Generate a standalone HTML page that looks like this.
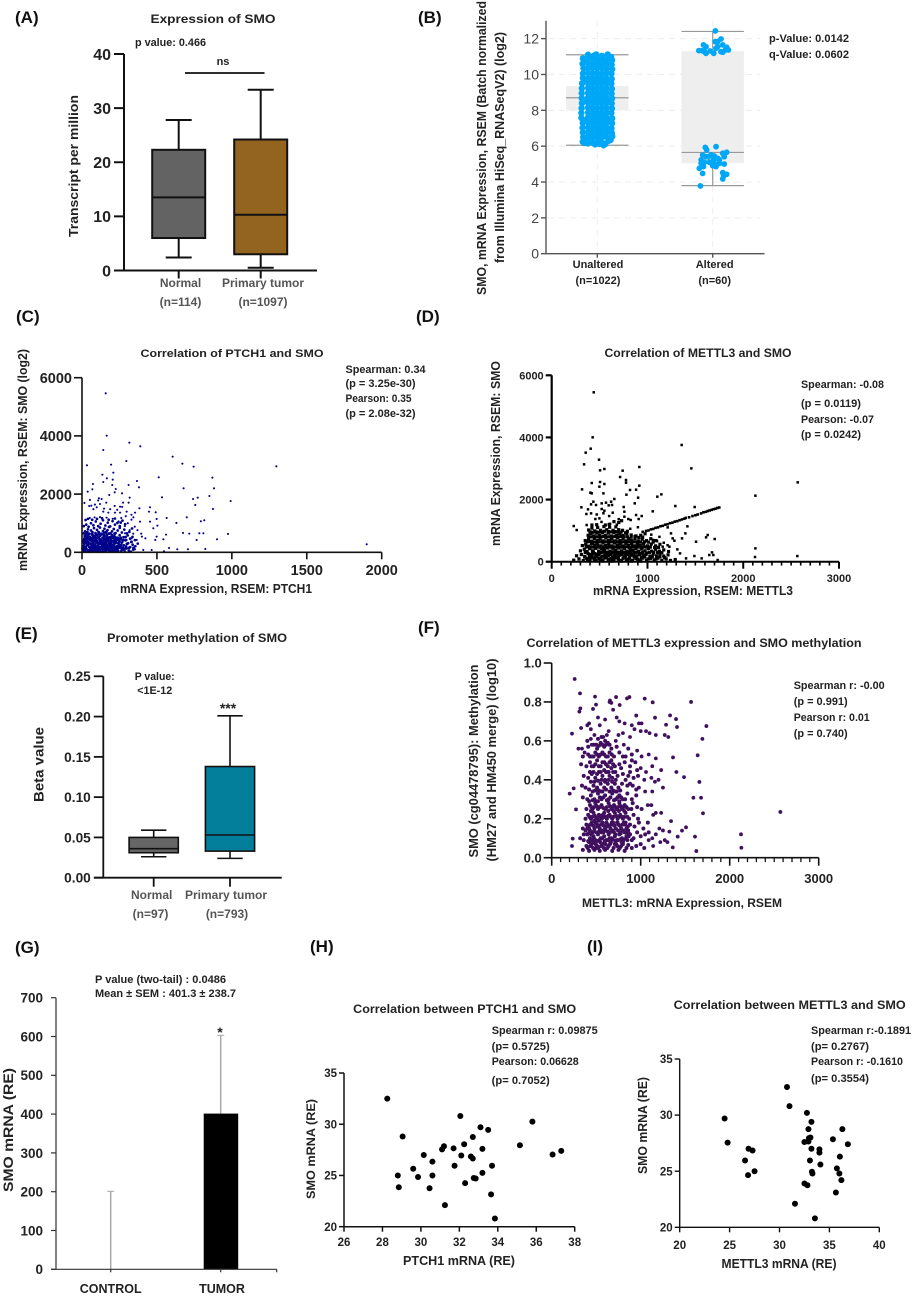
<!DOCTYPE html>
<html lang="en">
<head>
<meta charset="utf-8">
<title>SMO expression figure</title>
<style>
html,body{margin:0;padding:0;background:#fff;}
svg{display:block;}
text{font-family:"Liberation Sans",sans-serif;fill:#1a1a1a;font-weight:bold;}
.panel-tag{font-size:17px;fill:#111;}
.stat{font-size:11px;fill:#222;}
.title{font-size:12px;fill:#222;}
.axis-title{font-size:13px;fill:#222;}
.cat{font-size:12px;fill:#555;}
</style>
</head>
<body>
<svg id="figure" xmlns="http://www.w3.org/2000/svg" width="913" height="1297" viewBox="0 0 913 1297">
<rect x="0" y="0" width="913" height="1297" fill="#ffffff"/>

<g id="panel-a">
<text class="panel-tag" x="15" y="23">(A)</text>
<text class="title" x="213" y="23" text-anchor="middle" textLength="125" lengthAdjust="spacingAndGlyphs">Expression of SMO</text>
<text class="stat" x="135" y="46" textLength="71" lengthAdjust="spacingAndGlyphs">p value: 0.466</text>
<text class="stat" x="223" y="65" text-anchor="middle">ns</text>
<line x1="185" y1="73" x2="264.500" y2="73" stroke="#111" stroke-width="1.800"/>
<text class="axis-title" transform="translate(78,166) rotate(-90)" text-anchor="middle" textLength="142" lengthAdjust="spacingAndGlyphs">Transcript per million</text>
</g>

<g id="panel-b">
<text class="panel-tag" x="418" y="23">(B)</text>
<text class="axis-title" transform="translate(486,148) rotate(-90)" text-anchor="middle" textLength="294" lengthAdjust="spacingAndGlyphs">SMO, mRNA Expression, RSEM (Batch normalized</text>
<text class="axis-title" transform="translate(504,147.500) rotate(-90)" text-anchor="middle" textLength="231" lengthAdjust="spacingAndGlyphs">from Illumina HiSeq_RNASeqV2) (log2)</text>
<text class="stat" x="769" y="42" textLength="80" lengthAdjust="spacingAndGlyphs">p-Value: 0.0142</text>
<text class="stat" x="769" y="58" textLength="80" lengthAdjust="spacingAndGlyphs">q-Value: 0.0602</text>
</g>

<g id="panel-c">
<text class="panel-tag" x="16" y="322">(C)</text>
<text class="title" style="font-size:11px" x="232" y="357" text-anchor="middle" textLength="183" lengthAdjust="spacingAndGlyphs">Correlation of PTCH1 and SMO</text>
<text class="stat" x="345.500" y="373" textLength="80" lengthAdjust="spacingAndGlyphs">Spearman: 0.34</text>
<text class="stat" x="345.500" y="387" textLength="70" lengthAdjust="spacingAndGlyphs">(p = 3.25e-30)</text>
<text class="stat" x="345.500" y="402" textLength="66" lengthAdjust="spacingAndGlyphs">Pearson: 0.35</text>
<text class="stat" x="345.500" y="417" textLength="70" lengthAdjust="spacingAndGlyphs">(p = 2.08e-32)</text>
<text class="axis-title" transform="translate(27,460) rotate(-90)" text-anchor="middle" textLength="222" lengthAdjust="spacingAndGlyphs">mRNA Expression, RSEM: SMO  (log2)</text>
<text class="axis-title" x="216" y="593" text-anchor="middle" textLength="192" lengthAdjust="spacingAndGlyphs">mRNA Expression, RSEM: PTCH1</text>
</g>

<g id="panel-d">
<text class="panel-tag" x="416" y="322">(D)</text>
<text class="title" x="698" y="357" text-anchor="middle" textLength="187" lengthAdjust="spacingAndGlyphs">Correlation of METTL3 and SMO</text>
<text class="stat" x="801" y="388" textLength="83" lengthAdjust="spacingAndGlyphs">Spearman: -0.08</text>
<text class="stat" x="801" y="407" textLength="60" lengthAdjust="spacingAndGlyphs">(p = 0.0119)</text>
<text class="stat" x="801" y="423" textLength="73" lengthAdjust="spacingAndGlyphs">Pearson: -0.07</text>
<text class="stat" x="801" y="438" textLength="60" lengthAdjust="spacingAndGlyphs">(p = 0.0242)</text>
<text class="axis-title" transform="translate(500,453.500) rotate(-90)" text-anchor="middle" textLength="185" lengthAdjust="spacingAndGlyphs">mRNA Expression, RSEM:  SMO</text>
<text class="axis-title" x="693" y="595" text-anchor="middle" textLength="200" lengthAdjust="spacingAndGlyphs">mRNA Expression, RSEM: METTL3</text>
</g>

<g id="panel-e">
<text class="panel-tag" x="15" y="639">(E)</text>
<text class="title" x="197" y="642" text-anchor="middle" textLength="180" lengthAdjust="spacingAndGlyphs">Promoter methylation of SMO</text>
<text class="stat" x="154.700" y="680" text-anchor="middle" textLength="40" lengthAdjust="spacingAndGlyphs">P value:</text>
<text class="stat" x="154.700" y="694" text-anchor="middle" textLength="35" lengthAdjust="spacingAndGlyphs">&lt;1E-12</text>
<text class="stat" style="font-size:14px" x="228" y="713" text-anchor="middle">***</text>
<text class="axis-title" style="font-size:14px" transform="translate(43.500,764.500) rotate(-90)" text-anchor="middle" textLength="75" lengthAdjust="spacingAndGlyphs">Beta value</text>
</g>

<g id="panel-f">
<text class="panel-tag" x="418" y="633">(F)</text>
<text class="title" x="694" y="647" text-anchor="middle" textLength="335" lengthAdjust="spacingAndGlyphs">Correlation of METTL3 expression and SMO methylation</text>
<text class="stat" x="793.700" y="689" textLength="91" lengthAdjust="spacingAndGlyphs">Spearman r: -0.00</text>
<text class="stat" x="793.700" y="705" textLength="54" lengthAdjust="spacingAndGlyphs">(p = 0.991)</text>
<text class="stat" x="793.700" y="721" textLength="76" lengthAdjust="spacingAndGlyphs">Pearson r: 0.01</text>
<text class="stat" x="793.700" y="737" textLength="54" lengthAdjust="spacingAndGlyphs">(p = 0.740)</text>
<text class="axis-title" transform="translate(478,761) rotate(-90)" text-anchor="middle" textLength="193" lengthAdjust="spacingAndGlyphs">SMO (cg04478795): Methylation</text>
<text class="axis-title" transform="translate(496,760) rotate(-90)" text-anchor="middle" textLength="203" lengthAdjust="spacingAndGlyphs">(HM27 and HM450 merge) (log10)</text>
<text class="axis-title" style="font-size:12px" x="682" y="907" text-anchor="middle" textLength="200" lengthAdjust="spacingAndGlyphs">METTL3: mRNA Expression, RSEM</text>
</g>

<g id="panel-g">
<text class="panel-tag" x="15" y="953">(G)</text>
<text class="stat" x="95" y="983" textLength="131" lengthAdjust="spacingAndGlyphs">P value (two-tail) : 0.0486</text>
<text class="stat" x="95" y="997" textLength="141" lengthAdjust="spacingAndGlyphs">Mean ± SEM : 401.3 ± 238.7</text>
<text class="axis-title" style="font-size:14px" transform="translate(13,1130) rotate(-90)" text-anchor="middle" textLength="124" lengthAdjust="spacingAndGlyphs">SMO mRNA (RE)</text>
<text class="stat" style="font-size:14px" x="220" y="1037" text-anchor="middle">*</text>
</g>

<g id="panel-h">
<text class="panel-tag" x="310" y="952">(H)</text>
<text class="title" x="464.700" y="1013" text-anchor="middle" textLength="223" lengthAdjust="spacingAndGlyphs">Correlation between PTCH1 and SMO</text>
<text class="stat" x="491.700" y="1034" textLength="106" lengthAdjust="spacingAndGlyphs">Spearman r: 0.09875</text>
<text class="stat" x="491.700" y="1050" textLength="58" lengthAdjust="spacingAndGlyphs">(p= 0.5725)</text>
<text class="stat" x="491.700" y="1065" textLength="87" lengthAdjust="spacingAndGlyphs">Pearson: 0.06628</text>
<text class="stat" x="491.700" y="1084" textLength="58" lengthAdjust="spacingAndGlyphs">(p= 0.7052)</text>
<text class="axis-title" style="font-size:12px" transform="translate(315,1149) rotate(-90)" text-anchor="middle" textLength="100" lengthAdjust="spacingAndGlyphs">SMO mRNA (RE)</text>
<text class="axis-title" x="459" y="1265" text-anchor="middle" textLength="112" lengthAdjust="spacingAndGlyphs">PTCH1 mRNA (RE)</text>
</g>

<g id="panel-i">
<text class="panel-tag" x="587" y="952">(I)</text>
<text class="title" x="789.700" y="1009" text-anchor="middle" textLength="232" lengthAdjust="spacingAndGlyphs">Correlation between METTL3 and SMO</text>
<text class="stat" x="811" y="1034" textLength="100" lengthAdjust="spacingAndGlyphs">Spearman r:-0.1891</text>
<text class="stat" x="811" y="1050" textLength="58" lengthAdjust="spacingAndGlyphs">(p= 0.2767)</text>
<text class="stat" x="811" y="1065" textLength="92" lengthAdjust="spacingAndGlyphs">Pearson r: -0.1610</text>
<text class="stat" x="811" y="1082" textLength="58" lengthAdjust="spacingAndGlyphs">(p= 0.3554)</text>
<text class="axis-title" transform="translate(647,1125.500) rotate(-90)" text-anchor="middle" textLength="97" lengthAdjust="spacingAndGlyphs">SMO mRNA (RE)</text>
<text class="axis-title" x="779" y="1268" text-anchor="middle" textLength="115" lengthAdjust="spacingAndGlyphs">METTL3 mRNA (RE)</text>
</g>
</svg>

<script>
/* ---------- Panel A data ---------- */
const aTickLabels = ['0','10','20','30','40'];
const aCategories = ['Normal','Primary tumor'];
const aCounts = ['(n=114)','(n=1097)'];
const aLow = [2.4,0.5];
const aQ1 = [6,3];
const aMedian = [13.5,10.3];
const aQ3 = [22.3,24.2];
const aHigh = [27.8,33.4];

/* ---------- Panel B data ---------- */
const bTickLabels = ['0','2','4','6','8','10','12'];
const bCategories = ['Unaltered','Altered'];
const bCounts = ['(n=1022)','(n=60)'];
const bLow = [6.05,3.8];
const bQ1 = [8,5.05];
const bMedian = [8.7,5.65];
const bQ3 = [9.35,11.3];
const bHigh = [11.1,12.4];
/* [horizontal jitter in % of category spacing, log2 expression] */
const bUnaltered = [
[-8,11.1],[-3,11.05],[-1,11.12],[4,11.04],[9,11.12],[12,10.98],[-12.5,10.9],[-9,10.85],[-4,10.88],[0,10.85],[4.5,10.9],[8.5,10.85],[12.8,10.8],
[-12.8,10.6],[-8,10.62],[-4,10.6],[0,10.62],[4,10.6],[8,10.62],[12.4,10.55],[-12,10.35],[-8,10.33],[-4,10.36],[0,10.34],[4,10.35],[8,10.33],[12.9,10.3],
[-12.4,10.05],[-8,10.08],[-4,10.05],[0,10.07],[4,10.04],[8,10.08],[12.2,10.05],[-12.5,9.8],[-8,9.78],[-4,9.8],[0,9.78],[4,9.8],[8,9.78],[12.5,9.75],
[-13.2,9.5],[-8,9.52],[-4,9.5],[0,9.52],[4,9.5],[8,9.52],[12.2,9.5],[-13.4,9.22],[-8,9.25],[-4,9.22],[0,9.24],[4,9.22],[8,9.24],[12.6,9.2],
[-13.5,8.95],[-8,8.97],[-4,8.95],[0,8.96],[4,8.94],[8,8.97],[12.4,8.93],[-13.5,8.68],[-8,8.7],[-4,8.68],[0,8.7],[4,8.68],[8,8.7],[12.8,8.66],
[-13.3,8.4],[-8,8.42],[-4,8.4],[0,8.42],[4,8.4],[8,8.42],[12.5,8.38],[-13.6,8.12],[-8,8.15],[-4,8.12],[0,8.14],[4,8.12],[8,8.14],[12.7,8.1],
[-13.8,7.85],[-8,7.87],[-4,7.85],[0,7.86],[4,7.84],[8,7.87],[12.2,7.85],[-13.8,7.58],[-8,7.6],[-4,7.58],[0,7.6],[4,7.58],[8,7.6],[12.9,7.55],
[-12.6,7.3],[-8,7.32],[-4,7.3],[0,7.32],[4,7.3],[8,7.32],[12.8,7.28],[-12.8,7.03],[-8,7.05],[-4,7.03],[0,7.05],[4,7.03],[8,7.05],[12.3,7],
[-12.5,6.76],[-8,6.78],[-4,6.76],[0,6.78],[4,6.76],[8,6.78],[12.6,6.74],[-12.2,6.5],[-8,6.52],[-4,6.5],[0,6.52],[4,6.5],[8,6.52],[13,6.55],
[-12.6,6.25],[-9.5,6.28],[-5,6.22],[-1,6.2],[3,6.24],[6.5,6.15],[10,6.3],[11.5,6.35],[-11.5,6.18],[-8,6.15],[-2,6.1],[2,6.12],[5.5,6.05],[7,6.12],
[-10,10.73],[-6,10.98],[2,10.74],[6,10.74],[-10,9.65],[-6,9.65],[-2,9.65],[2,9.65],[6,9.65],[10,9.65],[-10,8.55],[-6,8.55],[-2,8.55],[2,8.55],[6,8.55],[10,8.55],[-10,7.45],[-6,7.45],[-2,7.45],[2,7.45],[6,7.45],[10,7.45]
];
const bAltered = [
[2.3,12.43],[7.2,11.98],[4.3,11.83],[2.3,11.83],[-8,11.65],[-5.8,11.55],[8.7,11.65],[12.1,11.52],[-12,11.33],[-9.2,11.33],[-7.2,11.27],[-5.8,11.18],[-2.3,11.31],[0.9,11.18],[2.9,11.46],[7.2,11.27],[8.7,11.24],[13.6,11.37],[11,11.37],[4.3,11.55],
[-6.4,5.93],[2.9,5.97],[-5.2,5.79],[12.1,5.66],[8.7,5.6],[-8.7,5.51],[-1.4,5.51],[1.4,5.45],[-10,5.23],[-5.8,5.41],[5.8,5.23],[10,5.41],[-10,5.04],[-7.2,5.1],[-2.9,5.1],[1.4,5.04],[5.8,5.04],[10,5],[-11.6,4.76],[-8,4.86],[0,4.91],[2.9,4.86],[-8.7,4.48],[8.7,4.52],[12.1,4.43],[9.5,4.35],[8.7,4.17],[-10.7,3.78],[-3.8,5.41],[0.6,5.23],[4.3,5.32]
];

/* ---------- Panel C data: [PTCH1, SMO] ---------- */
const cXTickLabels = ['0','500','1000','1500','2000'];
const cYTickLabels = ['0','2000','4000','6000'];
const cSparse = [
[158,5462],[165,4008],[316,3767],[389,3641],[142,3515],[605,3286],[33,2989],[194,3011],[296,3137],[670,3046],[745,2943],[1297,2954],[136,2668],[209,2737],[166,2542],[512,2576],[870,2565],[367,2450],[142,2416],[205,2496],[73,2347],[202,2313],[311,2313],[380,2233],[678,2198],[881,2198],[38,2084],[69,2164],[225,2175],[218,2061],[267,2027],[182,1970],[534,1889],[318,1878],[772,1878],[850,1935],[741,1832],[992,1763],[16,1695],[53,1798],[113,1855],[131,1832],[162,1706],[274,1706],[311,1706],[756,1626],[874,1489],[454,1546],[383,1512],[218,1592],[254,1569],[62,1603],[120,1660],[98,1546],[142,1397],[176,1363],[220,1363],[254,1363],[298,1397],[354,1363],[447,1397],[492,1374],[565,1180],[630,1008],[699,1202],[793,1065],[816,1100],[498,1145],[454,1053],[476,825],[503,916],[387,1053],[343,1202],[674,664],[716,641],[783,653],[810,653],[974,630],[901,447],[765,424],[561,607],[543,447],[498,538],[489,424],[581,149],[636,103],[707,103],[823,115],[1900,275],[547,34],[465,80],[409,80],[354,103],[423,480],[400,538],[365,424],[331,480],[298,424],[287,653],
[86,1640],[108,1780],[147,1500],[76,1480],[48,1590],[188,1480],[235,1460],[268,1560],[330,1290],[292,1240],[262,1180],[330,1120],[306,1000],[352,880],[370,760],[395,640],[342,640],[318,760],[286,900],[244,1060],[205,1150],[164,1190],[120,1210],[84,1200],[52,1180]
];
const cDense = [
[6,40],[14,90],[22,30],[30,120],[38,55],[46,20],[54,95],[62,35],[70,140],[78,60],[86,25],[94,110],[102,45],[110,150],[118,70],[126,20],[134,125],[142,50],[150,95],[158,30],[166,160],[174,75],[182,25],[190,115],[198,50],[206,140],[214,85],[222,30],[232,120],[242,55],[252,170],[262,35],[274,90],[286,30],[298,130],[312,60],[326,25],[342,90],
[8,210],[16,280],[24,190],[32,320],[40,240],[48,180],[56,300],[64,220],[72,350],[80,190],[88,270],[96,340],[104,210],[112,290],[120,360],[128,185],[136,250],[144,320],[152,205],[160,370],[168,260],[176,190],[184,310],[192,240],[200,380],[208,200],[216,290],[224,350],[234,215],[244,300],[256,190],[268,340],[280,240],[294,200],[308,310],[322,180],[338,260],[356,210],[372,300],
[7,400],[15,470],[23,520],[31,420],[39,560],[47,450],[55,510],[63,390],[71,580],[79,470],[87,530],[95,410],[103,600],[111,490],[119,550],[127,430],[135,620],[143,480],[151,540],[159,400],[167,590],[175,460],[183,520],[191,430],[199,600],[207,480],[217,550],[227,410],[239,500],[251,590],[263,440],[277,520],[291,410],[305,580],[321,470],[337,530],[353,420],
[10,650],[20,720],[30,680],[40,790],[50,640],[60,750],[70,690],[80,830],[90,660],[100,770],[110,700],[120,850],[130,640],[140,730],[150,810],[160,670],[170,760],[180,870],[190,650],[200,720],[212,800],[224,660],[238,750],[252,840],[266,680],[282,780],[300,650],[316,700],[334,820],
[12,900],[28,950],[44,880],[60,1000],[76,930],[92,1060],[108,900],[124,980],[140,1100],[156,920],[172,1020],[188,890],[204,1070],[220,950],[236,1010],[252,900],[270,1090],[288,970],[24,1110],[40,1150],[68,1120],[100,1150],[134,1170],[178,1120],[220,1160],[258,1020],
[18,60],[26,150],[34,240],[42,350],[58,160],[66,270],[74,430],[82,110],[90,210],[98,480],[106,310],[114,90],[122,440],[130,280],[138,170],[146,410],[154,290],[162,90],[170,470],[178,330],[186,130],[194,370],[202,260],[210,100],[218,430],[230,180],[248,440],[264,120],[44,630],[66,480],[84,570],[116,640],[148,680],[196,530],[12,330],[18,560],[36,700],[52,420],[28,380],[76,300],[68,60],[112,30],[154,140],[194,60],[228,90],[246,240]
];
const cCore = [
[4,130],[10,170],[16,350],[20,440],[26,610],[34,500],[44,70],[50,300],[52,530],[56,180],[60,430],[64,110],[68,620],[72,240],[76,520],[80,70],[84,380],[88,480],[92,170],[96,600],[100,90],[100,380],[104,510],[108,240],[112,680],[116,170],[118,430],[122,80],[124,300],[128,610],[132,200],[134,370],[138,500],[142,100],[146,240],[148,590],[152,60],[156,450],[158,330],[162,700],[164,210],[168,510],[172,110],[176,390],[180,640],[184,230],[188,60],[190,480],[194,300],[198,170],[202,560],[206,60],[210,370],[214,230],[218,640],[222,150],[226,500],[230,330],[236,80],[240,430],[246,160],[250,360],[258,500],[262,260],[270,160],[276,420],[284,120],[290,520],[300,290],[314,150],[330,360],[344,150]
];

/* ---------- Panel D data: [METTL3, SMO] ---------- */
const dXTickLabels = ['0','1000','2000','3000'];
const dYTickLabels = ['0','2000','4000','6000'];
const dMinorTicks = [100,200,300,400,500,600,700,800,900,1100,1200,1300,1400,1500,1600,1700,1800,1900,2100,2200,2300,2400,2500,2600,2700,2800,2900];
const dSparse = [
[439,5452],[428,4003],[407,3638],[355,3510],[338,3134],[494,3284],[505,2941],[550,2984],[915,3048],[1357,3757],[1458,3005],[741,2930],[714,2726],[776,2630],[776,2544],[418,2533],[505,2565],[550,2501],[498,2415],[915,2447],[317,2329],[404,2222],[418,2200],[540,2200],[780,2157],[818,2308],[881,2318],[902,2061],[1103,2093],[1145,2168],[2127,2125],[2569,2554],[310,1750],[435,1932],[411,1846],[463,1825],[522,1878],[567,1900],[620,1932],[654,2018],[595,1814],[630,1825],[752,1760],[867,1878],[1291,1792],[1493,1760],[1055,1621],[379,1685],[362,1535],[411,1556],[522,1696],[550,1642],[637,1578],[759,1610],[881,1503],[940,1470],[908,1374],[759,1449],[800,1374],[825,1342],[498,1395],[456,1374],[230,1148],[261,1020],[365,1180],
[1417,1138],[1211,1105],[1246,912],[1263,751],[1281,676],[1396,912],[1361,751],[1507,644],[1612,784],[1629,859],[1702,730],[1312,397],[1340,268],[1403,107],[1490,182],[1566,107],[1646,215],[1674,300],[1688,215],[1733,54],[2127,429],[2123,150],[2565,182],[1229,483],[1159,483],[1100,660],[1125,800],[1060,700],[1170,610],[1210,530],[1040,870],[540,1560],[600,1470],[470,1520],[700,1370],[820,1060],[900,1110],[520,1280],[610,1220],[680,1190]
];
const dTrend = [
[950,960],[985,990],[1010,1005],[1035,1040],[1060,1055],[1085,1090],[1110,1105],[1135,1140],[1160,1155],[1185,1190],[1210,1205],[1235,1240],[1260,1255],[1285,1290],[1310,1305],[1335,1335],[1360,1360],[1385,1385],[1400,1410],[1435,1430],[1470,1470],[1500,1495],[1525,1520],[1560,1555],[1585,1590],[1610,1605],[1630,1630],[1650,1650],[1670,1670],[1690,1690],[1710,1705],[1730,1730],[1750,1745]
];
const dDense = [
[230,50],[285,90],[330,40],[365,110],[400,50],[430,120],[465,40],[495,100],[525,55],[555,120],[590,40],[620,110],[650,60],[680,125],[715,45],[745,110],[780,55],[810,120],[845,40],[880,105],[915,55],[950,115],[990,40],[1030,100],[1070,50],[1110,115],[1150,45],[1195,90],[1240,40],[1290,70],
[260,190],[310,230],[345,170],[380,260],[410,190],[440,270],[470,200],[500,280],[530,180],[560,260],[590,200],[620,290],[650,180],[680,270],[710,210],[740,290],[770,190],[800,270],[830,210],[860,280],[890,190],[920,260],[955,200],[990,280],[1025,180],[1060,240],[1095,190],[1130,250],[1170,180],[1215,220],
[300,350],[340,400],[370,330],[400,420],[430,350],[460,430],[490,340],[520,420],[550,360],[580,440],[610,340],[640,420],[670,360],[700,440],[730,350],[760,430],[790,340],[820,410],[850,360],[880,430],[910,340],[940,410],[975,350],[1010,420],[1045,340],[1085,400],[1125,340],[1170,380],[1220,330],
[320,520],[355,570],[385,500],[415,590],[445,520],[475,590],[505,510],[535,600],[565,520],[595,590],[625,510],[655,600],[685,530],[715,590],[745,510],[775,590],[805,520],[835,590],[865,510],[895,570],[925,520],[960,580],[1000,510],[1040,570],[1085,510],[1130,560],
[350,680],[385,740],[415,660],[445,750],[475,680],[505,750],[535,670],[565,760],[595,680],[625,750],[655,670],[685,760],[715,680],[745,750],[775,670],[805,740],[835,680],[870,750],[905,670],[945,730],[990,680],[1035,740],[1090,680],
[380,850],[410,910],[440,830],[470,920],[500,840],[530,930],[560,850],[590,920],[620,830],[650,930],[680,850],[710,910],[745,840],[785,900],[830,860],[880,830],[930,850],[975,900],
[385,1020],[420,1080],[450,990],[480,1100],[510,1010],[545,1130],[575,1030],[605,1110],[640,1010],[670,1120],[700,1030],[740,1010],[790,980],[420,1180],[470,1190],[560,1180],[600,1200],[650,1290],[700,1260],[730,1320],
[395,140],[425,320],[455,150],[485,500],[515,130],[545,330],[575,140],[605,500],[635,140],[665,330],[695,140],[725,500],[755,150],[785,330],[815,140],[845,500],[875,150],[905,330],[935,140],[965,480],[395,440],[425,610],[455,460],[485,640],[515,300],[545,640],[575,300],[605,650],[635,290],[665,650],[695,300],[725,630],[755,290],[785,630],[815,300],[845,640],[875,300],[905,630],[420,230],[450,260],[480,240],[510,470],[540,440],[570,470],[600,250],[630,470],[660,240],[690,470],[720,240],[750,470],[780,240],[810,460],[840,240]
];
const dCore = [
[345,150],[375,70],[415,150],[445,70],[475,150],[505,60],[535,20],[560,150],[600,80],[630,20],[660,150],[695,80],[730,20],[765,150],[795,80],[830,20],[860,150],[895,80],[930,20],[970,150],[1005,90],[1050,150],[1090,90],[1130,160],[1180,130],
[350,300],[395,230],[435,310],[465,220],[495,230],[525,310],[555,220],[585,310],[615,230],[645,310],[675,220],[705,310],[735,230],[765,310],[795,230],[825,310],[855,230],[885,310],[915,230],[950,300],[985,230],[1020,300],[1065,300],[1105,300],[1150,290],
[360,470],[405,480],[435,470],[465,480],[495,470],[525,480],[555,480],[585,480],[615,470],[645,480],[675,470],[705,480],[735,470],[765,480],[795,480],[825,470],[855,470],[885,480],[915,470],[950,470],[990,470],[1030,470],[1075,460],[1115,460],
[370,640],[400,650],[430,640],[460,630],[500,640],[530,650],[560,640],[590,640],[620,640],[650,640],[680,640],[710,640],[740,640],[770,640],[800,640],[830,630],[860,640],[890,640],[930,630],[970,640],[1010,630],[1060,630],
[395,800],[425,800],[455,800],[485,800],[515,800],[545,810],[575,800],[605,800],[635,800],[665,810],[695,800],[725,810],[755,800],[790,800],[830,790],[870,810],[910,780],[950,790],
[400,960],[430,950],[460,960],[490,950],[520,960],[550,980],[590,970],[620,960],[660,970],[690,960],[725,950],[770,930]
];

/* ---------- Panel E data ---------- */
const eTickLabels = ['0.00','0.05','0.10','0.15','0.20','0.25'];
const eCategories = ['Normal','Primary tumor'];
const eCounts = ['(n=97)','(n=793)'];
const eLow = [0.026,0.024];
const eQ1 = [0.031,0.033];
const eMedian = [0.036,0.053];
const eQ3 = [0.05,0.138];
const eHigh = [0.059,0.201];

/* ---------- Panel F data: [METTL3, SMO methylation] ---------- */
const fXTickLabels = ['0','1000','2000','3000'];
const fYTickLabels = ['0.0','0.2','0.4','0.6','0.8','1.0'];
const fMinorTicks = [100,200,300,400,500,600,700,800,900,1100,1200,1300,1400,1500,1600,1700,1800,1900,2100,2200,2300,2400,2500,2600,2700,2800,2900];
const fSparse = [
[258,.918],[318,.844],[487,.827],[322,.767],[311,.75],[498,.786],[464,.764],[655,.807],[723,.825],[764,.784],[846,.818],[873,.825],[1045,.817],[1135,.798],[1566,.8],[1330,.731],[1397,.712],[1161,.719],[1285,.683],[1408,.671],[1738,.676],[1693,.61],[1640,.526],[228,.637],[330,.666],[1363,.515],[1401,.44],[1487,.414],[1659,.389],[1592,.308],[1678,.308],[1700,.228],[2569,.235],[1341,.188],[2127,.12],[2131,.051],[1610,.108],[1625,.034],[202,.329],[247,.356],[273,.248],[228,.06],[236,.098],[1509,.156],[1464,.139],[1416,.108],[1360,.053],[1322,.134],
[650,.8],[670,.795],[690,.76],[600,.71],[520,.72],[540,.68],[420,.69],[440,.66],[400,.68],[730,.72],[760,.7],[820,.69],[900,.68],[950,.73],[980,.69],[1010,.69],[930,.66],[1000,.65],[1060,.65],[1100,.64],[1170,.63],[1270,.63],[1310,.62],[880,.62],[800,.64],[750,.63],[640,.65],[620,.63],[580,.62],[480,.63],[440,.61],[450,.58],[810,.58],[720,.6],[340,.56],[300,.56],[370,.54],[960,.55],[1010,.52],[1090,.53],[1170,.51],[1230,.45],[1130,.47],[1060,.44],[1000,.46],[1120,.41],[1200,.4],[1040,.4],[1160,.39],[1250,.36],[1130,.34],[1050,.34],[980,.36],[1080,.27],[1120,.27],[1170,.23],[1230,.23],[1140,.22],[1210,.15],[1250,.14],[1170,.12],[1130,.1],[1220,.08],[1270,.09],[1300,.08],[1140,.06],[1090,.09]
];
const fDense = [
[350,.04],[390,.06],[420,.035],[450,.07],[480,.04],[510,.06],[540,.035],[570,.07],[600,.04],[640,.06],[680,.035],[710,.07],[750,.04],[780,.06],[820,.035],[860,.065],[900,.05],[950,.06],[1000,.07],[1040,.05],
[320,.1],[360,.09],[400,.12],[430,.1],[460,.13],[490,.09],[520,.12],[550,.1],[580,.13],[610,.09],[640,.12],[670,.1],[700,.13],[730,.09],[760,.12],[790,.1],[820,.13],[850,.09],[880,.12],[920,.1],[960,.13],[1000,.11],[1050,.12],[1090,.13],
[350,.15],[390,.17],[420,.15],[450,.18],[480,.15],[510,.17],[540,.15],[570,.18],[600,.15],[630,.17],[660,.15],[690,.18],[720,.15],[750,.17],[780,.15],[810,.18],[840,.15],[880,.17],[930,.16],[980,.18],[1030,.15],[1080,.18],
[380,.2],[410,.22],[440,.2],[470,.23],[500,.2],[530,.22],[560,.2],[590,.23],[620,.2],[650,.22],[680,.2],[710,.23],[740,.2],[770,.22],[800,.2],[830,.23],[870,.2],[920,.22],[970,.2],
[390,.25],[430,.27],[460,.25],[490,.28],[520,.25],[560,.27],[600,.25],[640,.28],[670,.25],[700,.27],[730,.25],[760,.28],[790,.25],[820,.27],[860,.25],[910,.28],[960,.26],[1010,.25],
[350,.31],[400,.3],[440,.32],[480,.3],[520,.33],[560,.3],[600,.32],[640,.3],[680,.33],[720,.3],[760,.32],[800,.3],[850,.33],[900,.3],[950,.32],
[340,.37],[380,.36],[420,.35],[470,.37],[510,.36],[550,.38],[590,.36],[630,.38],[670,.36],[710,.38],[750,.36],[790,.38],[910,.37],[950,.35],
[360,.42],[410,.41],[450,.43],[490,.41],[530,.44],[570,.42],[610,.44],[650,.42],[690,.44],[740,.42],[800,.43],[860,.42],[920,.41],[970,.42],
[330,.48],[390,.47],[430,.49],[470,.47],[510,.5],[550,.47],[590,.49],[630,.47],[670,.5],[710,.47],[760,.48],[820,.49],[880,.47],[940,.49],
[350,.52],[410,.53],[450,.52],[490,.54],[530,.52],[570,.54],[610,.52],[650,.54],[700,.52],[760,.54],[830,.52],[900,.53],
[410,.57],[470,.58],[510,.56],[550,.59],[590,.57],[630,.59],[670,.56],[730,.57],[860,.56],
[430,.14],[470,.11],[510,.16],[545,.08],[575,.22],[605,.07],[635,.24],[665,.08],[695,.24],[725,.07],[755,.24],[785,.08],[815,.24],[840,.11],[440,.24],[480,.19],[520,.29],[560,.34],[600,.39],[640,.44],[680,.41],[720,.34],[760,.29],[470,.08],[500,.05],[530,.19],[560,.13],[590,.11],[620,.16],[650,.1],[680,.17],[710,.11],[740,.18],[770,.13],[800,.08],[830,.18],[860,.14],[400,.15],[420,.08],[380,.14],[360,.12]
];
const fCore = [
[405,.05],[435,.06],[465,.05],[495,.07],[525,.05],[555,.06],[585,.05],[625,.05],[655,.07],[695,.05],[735,.06],[765,.05],[800,.07],[840,.05],[410,.085],[445,.09],[475,.1],[505,.085],[535,.09],[565,.1],[595,.085],[625,.09],[655,.085],[685,.095],[715,.085],[745,.09],[775,.095],[805,.09],[835,.1],[865,.11],[900,.09],
[415,.125],[445,.12],[475,.135],[505,.13],[535,.135],[565,.14],[595,.14],[625,.135],[655,.13],[685,.14],[715,.12],[745,.14],[775,.125],[805,.14],[835,.13],[865,.125],[405,.165],[435,.17],[465,.165],[495,.18],[525,.165],[555,.17],[585,.165],[615,.18],[645,.165],[675,.18],[705,.165],[735,.18],[765,.165],[795,.17],[825,.17],[855,.16],
[425,.21],[455,.21],[485,.215],[515,.205],[545,.215],[575,.205],[605,.21],[635,.215],[665,.21],[695,.21],[725,.215],[755,.21],[785,.21],[815,.21],[850,.21],[445,.26],[475,.26],[505,.265],[540,.26],[580,.255],[620,.26],[655,.265],[685,.26],[715,.26],[745,.26],[775,.265],[805,.26],[840,.26],[895,.25],
[420,.29],[460,.295],[500,.29],[540,.31],[580,.31],[620,.295],[660,.31],[700,.295],[740,.31],[780,.31],[825,.3],[460,.34],[490,.345],[530,.345],[570,.34],[610,.35],[650,.34],[690,.345],[730,.34],[770,.345],[440,.39],[480,.39],[520,.395],[560,.4],[600,.4],[640,.4],[680,.39],[720,.4],[430,.44],[470,.44],[510,.43],[550,.44],[590,.45],[630,.44],[670,.46],[715,.44],
[450,.47],[490,.48],[530,.47],[570,.49],[610,.48],[650,.49],[690,.48],[430,.52],[470,.52],[510,.53],[550,.53],[590,.53],[630,.52],[675,.53],[500,.58],[530,.575],[570,.58],[610,.58],[650,.58],[400,.6],[520,.61],[560,.62],[600,.6],[850,.37],[880,.38],[830,.4],[880,.44],[900,.5],[800,.52],[780,.46],[960,.45]
];

/* ---------- Panel G data ---------- */
const gTickLabels = ['0','100','200','300','400','500','600','700'];
const gCategories = ['CONTROL','TUMOR'];
const gValues = [0,401.3];
const gErrorTops = [201,603];

/* ---------- Panel H data: [PTCH1, SMO] ---------- */
const hXTickLabels = ['26','28','30','32','34','36','38'];
const hYTickLabels = ['20','25','30','35'];
const hPoints = [
[28.25,32.5],[29.05,28.8],[32.05,30.8],[33.1,29.7],[33.5,29.45],[35.8,30.25],[32.7,28.75],[32.25,28.05],[35.15,27.95],[31.2,27.85],[31.1,27.55],[31.7,27.65],[33.2,27.6],[37.3,27.4],[36.85,27.05],[30.15,27],[32.1,26.95],[32.6,26.85],[32.7,26.65],[30.6,26.35],[31.75,25.95],[33.7,25.95],[29.6,25.65],[33.2,25.25],[28.8,25],[30.6,25],[29.85,24.85],[32.75,24.75],[32.85,24.7],[32.3,24.25],[28.85,23.85],[30.45,23.75],[33.65,23.15],[31.25,22.1],[33.85,20.8]
];

/* ---------- Panel I data: [METTL3, SMO] ---------- */
const iXTickLabels = ['20','25','30','35','40'];
const iYTickLabels = ['20','25','30','35'];
const iPoints = [
[30.75,32.5],[31,30.8],[32.75,30.2],[33.2,29.4],[24.5,29.7],[24.8,27.55],[32.9,28.75],[36.3,28.75],[33.1,28],[32.95,27.95],[35.35,27.85],[32.9,27.65],[32.5,27.6],[36.85,27.4],[26.9,27],[27.3,26.85],[33.2,27],[34,26.95],[34,26.65],[36.05,26.3],[26.55,25.95],[33.05,25.95],[34.1,25.6],[35.75,25.25],[27.5,25],[33.25,24.95],[33.3,24.8],[36,24.8],[26.85,24.65],[36.2,24.2],[32.5,23.9],[32.8,23.75],[35.65,23.1],[31.55,22.1],[33.55,20.8]
];

/* ---------- Drawing helpers ---------- */
const SVG_NS = 'http://www.w3.org/2000/svg';
function linear(d0, d1, r0, r1) {
  return function (v) { return r0 + (v - d0) * (r1 - r0) / (d1 - d0); };
}
function make(parent, tag, attrs) {
  const el = document.createElementNS(SVG_NS, tag);
  Object.keys(attrs).forEach(function (k) { el.setAttribute(k, attrs[k]); });
  parent.appendChild(el);
  return el;
}
function seg(parent, x1, y1, x2, y2, color, width) {
  return make(parent, 'line', {x1: x1, y1: y1, x2: x2, y2: y2, stroke: color, 'stroke-width': width});
}
function label(parent, x, y, str, anchor, size, color, weight) {
  const el = make(parent, 'text', {x: x, y: y, 'text-anchor': anchor, style: 'font-size:' + size + 'px;fill:' + color + ';font-weight:' + weight});
  el.textContent = str;
  return el;
}
function drawYAxis(g, labels, scale, o) {
  const spine = seg(g, o.x, scale(o.from), o.x, scale(o.to), o.color, o.width);
  
  
  labels.forEach(function (t) {
    const v = Number(t);
    const tick = seg(g, o.x - o.tick, scale(v), o.x, scale(v), o.color, o.tickWidth || o.width);
    
    
    const txt = label(g, o.x - o.tick - o.gap, scale(v) + o.size * 0.36, t, 'end', o.size, o.textColor, o.weight);
    
    
  });
}
function drawXAxis(g, labels, scale, o) {
  const spine = seg(g, scale(o.from), o.y, scale(o.to), o.y, o.color, o.width);
  
  
  labels.forEach(function (t) {
    const v = Number(t);
    const tick = seg(g, scale(v), o.y, scale(v), o.y + o.tick, o.color, o.width);
    
    
    const txt = label(g, scale(v), o.labelY, t, 'middle', o.size, o.textColor, o.weight);
    
    
  });
  (o.minor || []).forEach(function (v) {
    const tick = seg(g, scale(v), o.y, scale(v), o.y + o.tick * 0.55, o.color, o.width * 0.8);
    
    
  });
}
function drawBox(g, cx, halfW, capHalf, i, s, scale, fill, sw, stroke) {
  const up = seg(g, cx, scale(s.high[i]), cx, scale(s.q3[i]), stroke, sw);
  
  
  const upCap = seg(g, cx - capHalf, scale(s.high[i]), cx + capHalf, scale(s.high[i]), stroke, sw);
  
  
  const down = seg(g, cx, scale(s.q1[i]), cx, scale(s.low[i]), stroke, sw);
  
  
  const downCap = seg(g, cx - capHalf, scale(s.low[i]), cx + capHalf, scale(s.low[i]), stroke, sw);
  
  
  const box = make(g, 'rect', {x: cx - halfW, y: scale(s.q3[i]), width: halfW * 2, height: scale(s.q1[i]) - scale(s.q3[i]), fill: fill, stroke: stroke, 'stroke-width': sw});
  
  
  const med = seg(g, cx - halfW, scale(s.med[i]), cx + halfW, scale(s.med[i]), stroke, sw);
  
  
}
function drawCircles(g, points, sx, sy, r, color, name) {
  points.forEach(function (p) {
    const dot = make(g, 'circle', {cx: sx(p[0]), cy: sy(p[1]), r: r, fill: color});
    
    
  });
}
function drawSquares(g, points, sx, sy, size, color, name) {
  points.forEach(function (p) {
    const sq = make(g, 'rect', {x: sx(p[0]) - size / 2, y: sy(p[1]) - size / 2, width: size, height: size, fill: color});
    
    
  });
}
const panel = function (id) { return document.getElementById(id); };

/* ---------- Panel A ---------- */
(function () {
  const g = panel('panel-a');
  const y = linear(0, 40, 270.5, 54);
  const centers = [178.7, 260.7];
  const fills = ['#636363', '#936420'];
  const catCenters = [180.5, 263];
  const stats = {low: aLow, q1: aQ1, med: aMedian, q3: aQ3, high: aHigh};
  drawYAxis(g, aTickLabels, y, {x: 124, from: 0, to: 40, tick: 10, gap: 3, color: '#111', width: 2, size: 16, textColor: '#222', weight: 'bold'});
  const base = seg(g, 114, y(0), 317, y(0), '#111', 2);
  
  
  aCategories.forEach(function (c, i) {
    const t = seg(g, centers[i], y(0), centers[i], y(0) + 8, '#111', 2);
    
    
    drawBox(g, centers[i], 26.5, 13, i, stats, y, fills[i], 2, '#111');
    const l1 = label(g, catCenters[i], 287, c, 'middle', 12, '#555', 'bold');
    
    
    const l2 = label(g, catCenters[i], 306, aCounts[i], 'middle', 12, '#555', 'bold');
    
    
  });
})();

/* ---------- Panel B ---------- */
(function () {
  const g = panel('panel-b');
  const y = linear(0, 13, 253.7, 20.7);
  const centers = [597.3, 712.7];
  const jitter = function (cat) { return function (j) { return centers[cat] + j * 1.154; }; };
  bTickLabels.forEach(function (t) {
    const grid = seg(g, 548, y(Number(t)), 760, y(Number(t)), '#eeeeee', 1);
    grid.setAttribute('stroke-dasharray', '6 5');
    
    
  });
  centers.forEach(function (cx, i) {
    const grid = seg(g, cx, 20.7, cx, 253.7, '#eeeeee', 1);
    grid.setAttribute('stroke-dasharray', '6 5');
    
    
    const whisker = seg(g, cx, y(bHigh[i]), cx, y(bLow[i]), '#999', 1.2);
    
    
    const box = make(g, 'rect', {x: cx - 31.2, y: y(bQ3[i]), width: 62.4, height: y(bQ1[i]) - y(bQ3[i]), fill: '#eeeeee'});
    
    
    const hi = seg(g, cx - 31.2, y(bHigh[i]), cx + 31.2, y(bHigh[i]), '#999', 1.2);
    
    
    const lo = seg(g, cx - 31.2, y(bLow[i]), cx + 31.2, y(bLow[i]), '#999', 1.2);
    
    
    const med = seg(g, cx - 31.2, y(bMedian[i]), cx + 31.2, y(bMedian[i]), '#999', 1.2);
    
    
  });
  drawCircles(g, bUnaltered, jitter(0), y, 3.2, '#00a7f7', 'unaltered-sample-point');
  drawCircles(g, bAltered, jitter(1), y, 2.9, '#00a7f7', 'altered-sample-point');
  drawYAxis(g, bTickLabels, y, {x: 546, from: 0, to: 13, tick: 5, gap: 2, color: '#555', width: 1.4, size: 14, textColor: '#444', weight: 'normal'});
  const base = seg(g, 546, y(0), 764.5, y(0), '#555', 1.4);
  
  
  const catCenters = [598, 714.7];
  bCategories.forEach(function (c, i) {
    const t = seg(g, centers[i], y(0), centers[i], y(0) + 4, '#555', 1.4);
    
    
    const l1 = label(g, catCenters[i], 268, c, 'middle', 11, '#222', 'bold');
    
    
    const l2 = label(g, catCenters[i], 284, bCounts[i], 'middle', 11, '#222', 'bold');
    
    
  });
})();

/* ---------- Panel C ---------- */
(function () {
  const g = panel('panel-c');
  const x = linear(0, 2000, 82, 381.7);
  const y = linear(0, 6000, 552.3, 377.7);
  drawCircles(g, cSparse, x, y, 1.05, '#00008b', 'sample-point');
  drawCircles(g, cDense, x, y, 1.35, '#00008b', 'sample-point');
  drawCircles(g, cCore, x, y, 1.5, '#00008b', 'sample-point');
  drawYAxis(g, cYTickLabels, y, {x: 82, from: 0, to: 6000, tick: 8, gap: 2, color: '#111', width: 1.6, size: 14.5, textColor: '#222', weight: 'bold'});
  drawXAxis(g, cXTickLabels, x, {y: 552.3, from: 0, to: 2000, tick: 7, labelY: 575, color: '#111', width: 1.6, size: 14.5, textColor: '#222', weight: 'bold'});
})();

/* ---------- Panel D ---------- */
(function () {
  const g = panel('panel-d');
  const x = linear(0, 3000, 551.7, 839);
  const y = linear(0, 6000, 561.7, 375.3);
  drawSquares(g, dSparse, x, y, 2.5, '#000', 'sample-point');
  drawSquares(g, dTrend, x, y, 2.6, '#000', 'trend-sample-point');
  drawSquares(g, dDense, x, y, 3.2, '#000', 'sample-point');
  drawSquares(g, dCore, x, y, 3.2, '#000', 'sample-point');
  drawYAxis(g, dYTickLabels, y, {x: 551.7, from: 0, to: 6000, tick: 6, gap: 2, color: '#000', width: 2.2, size: 11, textColor: '#222', weight: 'bold'});
  drawXAxis(g, dXTickLabels, x, {y: 561.7, from: 0, to: 3000, tick: 7, labelY: 582, minor: dMinorTicks, color: '#000', width: 2, size: 11, textColor: '#222', weight: 'bold'});
})();

/* ---------- Panel E ---------- */
(function () {
  const g = panel('panel-e');
  const y = linear(0, 0.25, 877.7, 676.3);
  const centers = [153.7, 230];
  const fills = ['#666666', '#047f9b'];
  const lab = [151.7, 226];
  const cnt = [150.5, 227];
  const stats = {low: eLow, q1: eQ1, med: eMedian, q3: eQ3, high: eHigh};
  drawYAxis(g, eTickLabels, y, {x: 103.3, from: 0, to: 0.25, tick: 9.5, gap: 3, color: '#111', width: 1.8, size: 13.7, textColor: '#222', weight: 'bold'});
  const base = seg(g, 94, y(0), 281.7, y(0), '#111', 1.8);
  
  
  eCategories.forEach(function (c, i) {
    const t = seg(g, centers[i], y(0), centers[i], y(0) + 9, '#111', 1.8);
    
    
    drawBox(g, centers[i], 24.6, 12.7, i, stats, y, fills[i], 1.6, '#111');
    const l1 = label(g, lab[i], 899, c, 'middle', 12, '#555', 'bold');
    
    
    const l2 = label(g, cnt[i], 918, eCounts[i], 'middle', 12, '#555', 'bold');
    
    
  });
})();

/* ---------- Panel F ---------- */
(function () {
  const g = panel('panel-f');
  const x = linear(0, 3000, 551.7, 818.7);
  const y = linear(0, 1, 857.7, 663);
  drawCircles(g, fSparse, x, y, 1.9, '#40105f', 'sample-point');
  drawCircles(g, fDense, x, y, 2, '#40105f', 'sample-point');
  drawCircles(g, fCore, x, y, 2, '#40105f', 'sample-point');
  drawYAxis(g, fYTickLabels, y, {x: 551.7, from: 0, to: 1, tick: 8, gap: 2, color: '#111', width: 1.6, size: 13, textColor: '#222', weight: 'bold'});
  drawXAxis(g, fXTickLabels, x, {y: 857.7, from: 0, to: 3000, tick: 8, labelY: 883, minor: fMinorTicks, color: '#111', width: 1.6, size: 13, textColor: '#222', weight: 'bold'});
})();

/* ---------- Panel G ---------- */
(function () {
  const g = panel('panel-g');
  const y = linear(0, 700, 1269.3, 997.7);
  const centers = [110.7, 220.7];
  const labelCenters = [110.7, 222];
  gCategories.forEach(function (c, i) {
    const err = seg(g, centers[i], y(gValues[i]), centers[i], y(gErrorTops[i]), '#a8a8a8', 1.5);
    
    
    const cap = seg(g, centers[i] - 3.5, y(gErrorTops[i]), centers[i] + 3.5, y(gErrorTops[i]), '#a8a8a8', 1);
    
    
    const bar = make(g, 'rect', {x: centers[i] - 17, y: y(gValues[i]), width: 34.5, height: y(0) - y(gValues[i]), fill: '#000'});
    
    
    const t = seg(g, centers[i], y(0), centers[i], y(0) + 3, '#333', 1.2);
    
    
    const txt = label(g, labelCenters[i], 1293, c, 'middle', 12.5, '#222', 'bold');
    
    
  });
  drawYAxis(g, gTickLabels, y, {x: 56, from: 0, to: 700, tick: 5, gap: 8, color: '#333', width: 1.2, size: 13.5, textColor: '#222', weight: 'bold'});
  const base = seg(g, 51, y(0), 276.7, y(0), '#333', 1.2);
  
  
  const endTick = seg(g, 276.7, y(0), 276.7, y(0) + 3, '#333', 1.2);
  
  
})();

/* ---------- Panel H ---------- */
(function () {
  const g = panel('panel-h');
  const x = linear(26, 38, 344, 574.7);
  const y = linear(20, 35, 1226.7, 1073);
  drawCircles(g, hPoints, x, y, 3, '#000', 'sample-point');
  drawYAxis(g, hYTickLabels, y, {x: 344, from: 20, to: 35, tick: 5, gap: 2, color: '#111', width: 1.5, size: 11.5, textColor: '#222', weight: 'bold'});
  drawXAxis(g, hXTickLabels, x, {y: 1226.7, from: 26, to: 38, tick: 5, labelY: 1246, color: '#111', width: 1.5, size: 11.5, textColor: '#222', weight: 'bold'});
})();

/* ---------- Panel I ---------- */
(function () {
  const g = panel('panel-i');
  const x = linear(20, 40, 679.7, 879.3);
  const y = linear(20, 35, 1227.3, 1059);
  drawCircles(g, iPoints, x, y, 3, '#000', 'sample-point');
  drawYAxis(g, iYTickLabels, y, {x: 679.7, from: 20, to: 35, tick: 5, gap: 2, color: '#111', width: 1.4, size: 11.5, textColor: '#222', weight: 'bold'});
  drawXAxis(g, iXTickLabels, x, {y: 1227.3, from: 20, to: 40, tick: 5, labelY: 1249, color: '#111', width: 1.4, size: 11.5, textColor: '#222', weight: 'bold'});
})();
</script>
</body>
</html>
